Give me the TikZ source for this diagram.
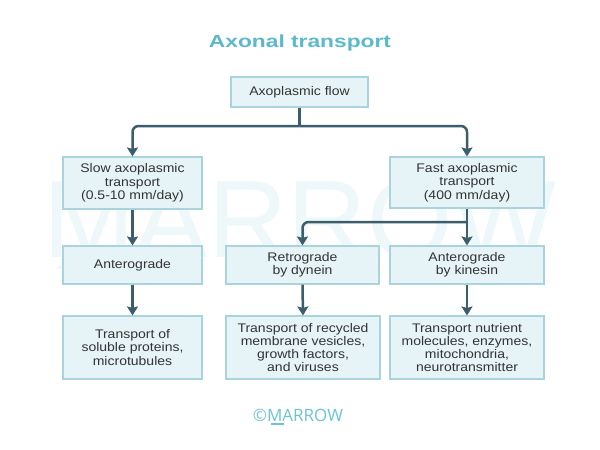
\documentclass[tikz,border=0pt]{standalone}
\usepackage{fontspec}
\setmainfont[FakeStretch=1.12]{Liberation Sans}
\newfontfamily\titlefont[FakeStretch=1.3]{Liberation Sans}
\newfontfamily\logofont{Open Sans}
\newfontfamily\wmfont{Liberation Sans}
\usetikzlibrary{arrows.meta}
\definecolor{linec}{HTML}{3B5D6C}
\definecolor{boxfill}{HTML}{E6F4F7}
\definecolor{boxborder}{HTML}{A9D3DD}
\definecolor{titlec}{HTML}{5CB8CC}
\definecolor{logoc}{HTML}{6CC3D3}
\definecolor{wmc}{HTML}{EEF8FA}
\definecolor{textc}{HTML}{333333}
\tikzset{
  box/.style={draw=boxborder, fill=boxfill, line width=1.1pt, inner sep=0pt,
    align=center, text=textc, font=\fontsize{12.5}{13.3}\selectfont},
  conn/.style={draw=linec, line width=2.5pt},
  arr/.style={conn, -{Stealth[length=9pt,width=11pt,inset=1.5pt]}},
}
\begin{document}
\begin{tikzpicture}[x=1pt,y=-1pt]
\useasboundingbox (0,0) rectangle (600,450);
\fill[white] (0,0) rectangle (600,450);
% watermark
\node[text=wmc, font=\wmfont\fontsize{110}{110}\selectfont, anchor=center] (wm) at (300,220) {MARROW};
\draw[wmc, line width=3pt] (57,267) -- (130,267);
% title
\node[text=titlec, font=\titlefont\bfseries\fontsize{17.5}{20}\selectfont] (title) at (300,43) {Axonal transport};
% boxes
\node[box, minimum width=137pt, minimum height=30pt] (flow) at (299.5,92) {Axoplasmic flow};
\node[box, minimum width=139pt, minimum height=52pt] (slow) at (132.5,183) {Slow axoplasmic\\transport\\(0.5-10 mm/day)};
\node[box, minimum width=154pt, minimum height=51pt] (fast) at (467,182.5) {Fast axoplasmic\\transport\\(400 mm/day)};
\node[box, minimum width=139pt, minimum height=38pt] (antL) at (132.5,265) {Anterograde};
\node[box, minimum width=153pt, minimum height=38pt] (retro) at (302.5,265) {Retrograde\\by dynein};
\node[box, minimum width=154pt, minimum height=38pt] (antK) at (467,265) {Anterograde\\by kinesin};
\node[box, minimum width=139pt, minimum height=63pt] (b1) at (132.5,347.5) {Transport of\\soluble proteins,\\microtubules};
\node[box, minimum width=154pt, minimum height=63pt] (b2) at (303,347.5) {Transport of recycled\\membrane vesicles,\\growth factors,\\and viruses};
\node[box, minimum width=154pt, minimum height=63pt] (b3) at (467,347.5) {Transport nutrient\\molecules, enzymes,\\mitochondria,\\neurotransmitter};
% connectors
\coordinate (j) at (299.5,126);
\coordinate (k) at (467,222);
\draw[conn] (flow.south) -- (j);
\draw[arr, rounded corners=6pt] (j) -| (slow.north);
\draw[arr, rounded corners=6pt] (j) -| (fast.north);
\draw[arr] (fast.south) -- (antK.north);
\draw[arr, rounded corners=6pt] (k) -| (retro.north);
\draw[arr] (slow.south) -- (antL.north);
\draw[arr] (antL.south) -- (b1.north);
\draw[arr] (retro.south) -- (b2.north);
\draw[arr] (antK.south) -- (b3.north);
% logo
\node[text=logoc, font=\logofont\fontsize{17}{20}\selectfont, inner sep=0pt] (logo) at (298,415) {©MARROW};
\draw[logoc, line width=1.3pt] (270.5,424) -- (283.5,424);
\end{tikzpicture}
\end{document}
